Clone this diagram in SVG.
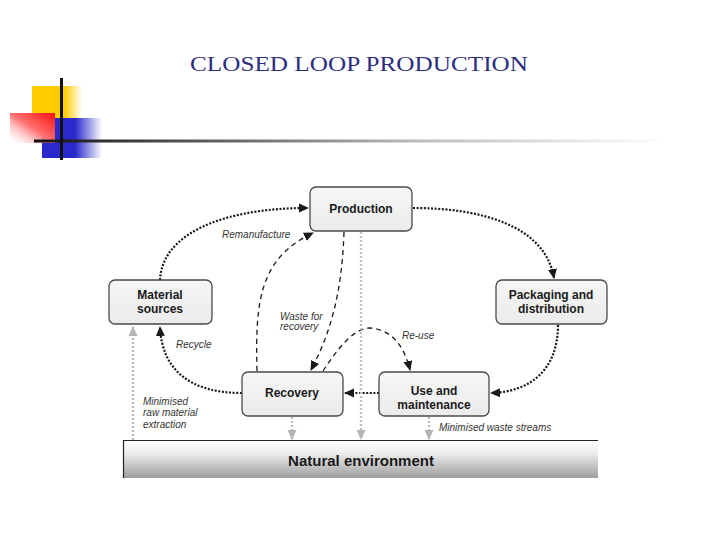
<svg xmlns="http://www.w3.org/2000/svg" width="720" height="540" viewBox="0 0 720 540">
<defs>
<style>
.box{fill:url(#boxg);stroke:#4a4a4a;stroke-width:1.3}
.bl{font-family:"Liberation Sans",Arial,sans-serif;font-weight:bold;font-size:12px;fill:#1a1a1a;text-anchor:middle}
.lab{font-family:"Liberation Sans",Arial,sans-serif;font-style:italic;font-size:10px;fill:#333}
.dot{fill:none;stroke:#1a1a1a;stroke-width:2.2;stroke-dasharray:2 1.6}
.dash{fill:none;stroke:#1a1a1a;stroke-width:1.3;stroke-dasharray:5 4}
.gry{fill:none;stroke:#bdbdbd;stroke-width:2.4;stroke-dasharray:2 2}
</style>
<linearGradient id="boxg" x1="0" y1="0" x2="0" y2="1"><stop offset="0" stop-color="#f6f6f6"/><stop offset="1" stop-color="#ebebeb"/></linearGradient>
<linearGradient id="envg" x1="0" y1="0" x2="0" y2="1"><stop offset="0" stop-color="#ffffff"/><stop offset="0.35" stop-color="#ececec"/><stop offset="1" stop-color="#9e9e9e"/></linearGradient>
<linearGradient id="yel" x1="0" y1="0" x2="1" y2="0"><stop offset="0" stop-color="#ffcc00"/><stop offset="0.65" stop-color="#ffcc00"/><stop offset="1" stop-color="#ffcc00" stop-opacity="0"/></linearGradient>
<linearGradient id="blu" x1="0" y1="0" x2="1" y2="0"><stop offset="0" stop-color="#2a2acc"/><stop offset="0.55" stop-color="#2a2acc"/><stop offset="1" stop-color="#2a2acc" stop-opacity="0"/></linearGradient>
<linearGradient id="red" x1="1" y1="0" x2="0" y2="1"><stop offset="0" stop-color="#ff1010"/><stop offset="0.5" stop-color="#ff7070"/><stop offset="1" stop-color="#ffffff" stop-opacity="0.2"/></linearGradient>
<linearGradient id="hl" x1="0" y1="0" x2="1" y2="0"><stop offset="0" stop-color="#111"/><stop offset="0.25" stop-color="#555"/><stop offset="0.6" stop-color="#bbb"/><stop offset="1" stop-color="#fff"/></linearGradient>
<marker id="ab" markerWidth="10" markerHeight="10" viewBox="0 0 10 10" refX="9" refY="5" orient="auto" markerUnits="userSpaceOnUse"><path d="M0,0.5 L10,5 L0,9.5 z" fill="#1a1a1a"/></marker>
<marker id="ag" markerWidth="10" markerHeight="10" viewBox="0 0 10 10" refX="9" refY="5" orient="auto" markerUnits="userSpaceOnUse"><path d="M0,0.5 L10,5 L0,9.5 z" fill="#b5b5b5"/></marker>
</defs>
<rect width="720" height="540" fill="#fff"/>
<g id="logo">
<rect x="32" y="86" width="50" height="34" fill="url(#yel)"/>
<rect x="42" y="118" width="60" height="40" fill="url(#blu)"/>
<rect x="10" y="113" width="45" height="30" fill="url(#red)"/>
<rect x="34" y="139.5" width="634" height="3" fill="url(#hl)"/>
<rect x="60" y="78" width="3" height="82" fill="#111"/>
</g>
<text x="359" y="71" font-family="'Liberation Serif','Times New Roman',serif" font-size="21" fill="#2e2e80" text-anchor="middle" textLength="338" lengthAdjust="spacingAndGlyphs">CLOSED LOOP PRODUCTION</text>
<g id="env">
<rect x="123" y="440" width="475" height="38" fill="url(#envg)"/>
<line x1="123" y1="440.5" x2="598" y2="440.5" stroke="#222" stroke-width="1.2"/>
<line x1="123.5" y1="440" x2="123.5" y2="478" stroke="#222" stroke-width="1.2"/>
<text x="361" y="466" font-family="'Liberation Sans',Arial,sans-serif" font-weight="bold" font-size="15" fill="#1a1a1a" text-anchor="middle">Natural environment</text>
</g>
<g id="connectors">
<path class="dot" d="M160,280 C162,235 220,208 308,208" marker-end="url(#ab)"/>
<path class="dot" d="M413,208 C480,208 545,225 554,278" marker-end="url(#ab)"/>
<path class="dot" d="M558,325 C558,370 530,392 491,393" marker-end="url(#ab)"/>
<path class="dot" d="M379,393 L345,393" marker-end="url(#ab)"/>
<path class="dot" d="M242,393 C190,393 162,370 160,327" marker-end="url(#ab)"/>
<path class="dash" d="M257,371 C255,300 260,258 313,233" marker-end="url(#ab)"/>
<path class="dash" d="M344,232 C342,290 332,330 311,370" marker-end="url(#ab)"/>
<path class="dash" d="M323,371 C340,345 355,328 370,328 C395,330 405,350 410,370" marker-end="url(#ab)"/>
<path class="gry" d="M133,440 L133,327" marker-end="url(#ag)"/>
<path class="gry" d="M292,417 L292,439" marker-end="url(#ag)"/>
<path class="gry" d="M361,232 L361,439" marker-end="url(#ag)"/>
<path class="gry" d="M429,417 L429,439" marker-end="url(#ag)"/>
</g>
<g id="labels">
<text class="lab" x="222" y="238">Remanufacture</text>
<text class="lab" x="176" y="348">Recycle</text>
<text class="lab" x="280" y="320">Waste for</text>
<text class="lab" x="280" y="330">recovery</text>
<text class="lab" x="402" y="339">Re-use</text>
<text class="lab" x="143" y="405">Minimised</text>
<text class="lab" x="143" y="416">raw material</text>
<text class="lab" x="143" y="428">extraction</text>
<text class="lab" x="439" y="431">Minimised waste streams</text>
</g>
<g id="production"><rect class="box" x="310" y="187" width="102" height="44" rx="6"/><text class="bl" x="361" y="213">Production</text></g>
<g id="material"><rect class="box" x="109" y="280" width="103" height="44" rx="6"/><text class="bl" x="160" y="299">Material</text><text class="bl" x="160" y="313">sources</text></g>
<g id="packaging"><rect class="box" x="496" y="280" width="111" height="44" rx="6"/><text class="bl" x="551" y="299">Packaging and</text><text class="bl" x="551" y="313">distribution</text></g>
<g id="recovery"><rect class="box" x="242" y="372" width="101" height="44" rx="6"/><text class="bl" x="292" y="397">Recovery</text></g>
<g id="use"><rect class="box" x="379" y="372" width="110" height="44" rx="6"/><text class="bl" x="434" y="395">Use and</text><text class="bl" x="434" y="409">maintenance</text></g>
</svg>
